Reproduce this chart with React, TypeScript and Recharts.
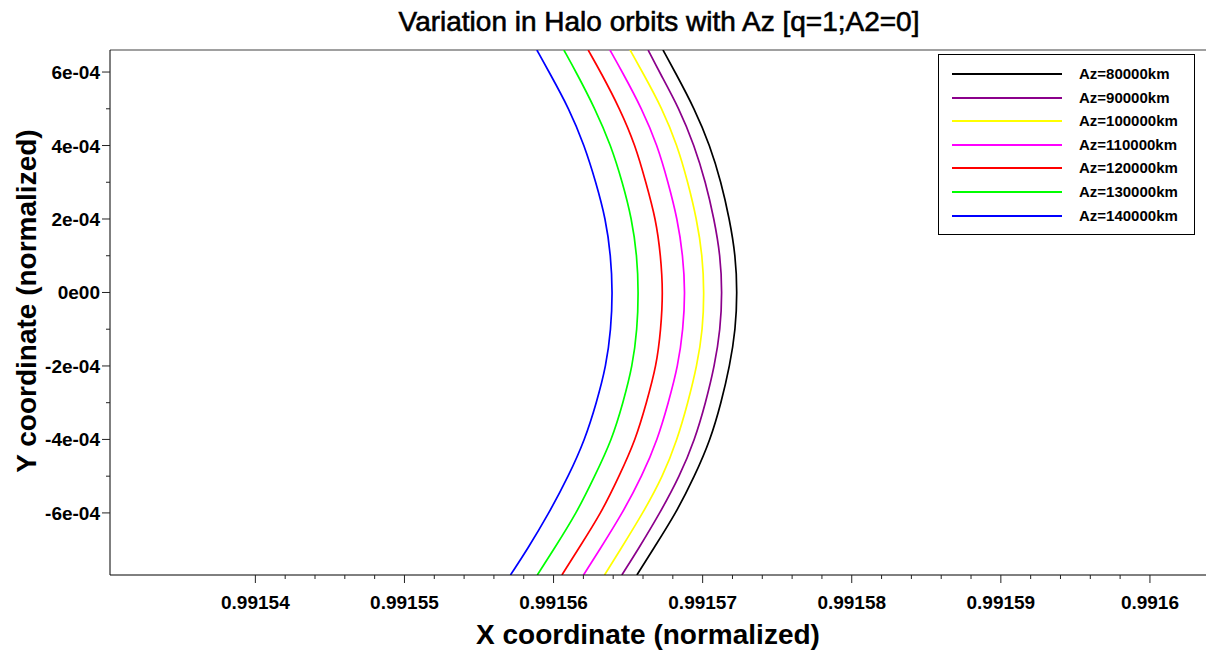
import React from 'react';
import { LineChart, Line, XAxis, YAxis, Legend, ReferenceLine } from 'recharts';

// y sample levels (normalized) from top edge to bottom edge
const yLevels = [6.6e-4, 6e-4, 5e-4, 4e-4, 3e-4, 2e-4, 1e-4, 0, -1e-4, -2e-4, -3e-4, -4e-4, -5e-4, -6e-4, -7e-4, -7.69e-4];

const xAz80000 = [0.99156734, 0.99156815, 0.99156946, 0.99157049, 0.99157124, 0.9915718, 0.99157221, 0.99157232, 0.99157221, 0.99157182, 0.99157124, 0.99157053, 0.99156946, 0.99156822, 0.99156666, 0.99156559];
const xAz90000 = [0.99156634, 0.9915671, 0.99156844, 0.99156944, 0.9915702, 0.99157077, 0.99157119, 0.99157131, 0.99157119, 0.9915708, 0.9915702, 0.99156948, 0.99156846, 0.99156714, 0.99156566, 0.99156458];
const xAz100000 = [0.99156513, 0.99156596, 0.9915673, 0.9915683, 0.99156901, 0.9915696, 0.99156999, 0.9915701, 0.99157001, 0.99156962, 0.99156901, 0.9915683, 0.99156734, 0.991566, 0.99156448, 0.99156342];
const xAz110000 = [0.99156378, 0.99156461, 0.99156593, 0.99156697, 0.99156768, 0.99156831, 0.99156868, 0.99156883, 0.99156869, 0.99156835, 0.9915677, 0.99156698, 0.99156593, 0.99156463, 0.99156309, 0.99156201];
const xAz120000 = [0.99156232, 0.99156316, 0.99156445, 0.99156549, 0.99156619, 0.99156686, 0.99156719, 0.99156734, 0.9915672, 0.9915669, 0.99156623, 0.99156551, 0.9915644, 0.9915632, 0.99156163, 0.99156056];
const xAz130000 = [0.99156069, 0.99156151, 0.99156279, 0.99156385, 0.99156462, 0.99156525, 0.9915656, 0.9915657, 0.99156561, 0.9915653, 0.99156466, 0.99156392, 0.99156276, 0.99156155, 0.99156, 0.99155891];
const xAz140000 = [0.99155888, 0.9915597, 0.99156105, 0.99156207, 0.99156284, 0.9915635, 0.99156384, 0.99156396, 0.99156385, 0.99156353, 0.99156288, 0.99156211, 0.991561, 0.9915597, 0.99155823, 0.99155711];

const seriesNames = ['Az=80000km', 'Az=90000km', 'Az=100000km', 'Az=110000km', 'Az=120000km', 'Az=130000km', 'Az=140000km'];
const seriesColors = ['#000000', '#8b008b', '#ffff00', '#ff00ff', '#ff0000', '#00ff00', '#0000ff'];
const seriesX = [xAz80000, xAz90000, xAz100000, xAz110000, xAz120000, xAz130000, xAz140000];

const xMajorTicks = [0.99154, 0.99155, 0.99156, 0.99157, 0.99158, 0.99159, 0.9916];
const xTickLabels = ['0.99154', '0.99155', '0.99156', '0.99157', '0.99158', '0.99159', '0.9916'];
const xMinorTicks = [
  0.991542, 0.991544, 0.991546, 0.991548,
  0.991552, 0.991554, 0.991556, 0.991558,
  0.991562, 0.991564, 0.991566, 0.991568,
  0.991572, 0.991574, 0.991576, 0.991578,
  0.991582, 0.991584, 0.991586, 0.991588,
  0.991592, 0.991594, 0.991596, 0.991598,
];
const yMajorTicks = [6e-4, 4e-4, 2e-4, 0, -2e-4, -4e-4, -6e-4];
const yTickLabels = ['6e-04', '4e-04', '2e-04', '0e00', '-2e-04', '-4e-04', '-6e-04'];
const yMinorTicks = [5e-4, 3e-4, 1e-4, -1e-4, -3e-4, -5e-4];

const xDomain = [0.99153025, 0.99160376];
const yDomain = [-7.69e-4, 6.6e-4];

const FONT = '"Liberation Sans", Arial, Helvetica, sans-serif';

const seriesData = seriesX.map((xs) => yLevels.map((y, i) => ({ x: xs[i], y })));

const findMajor = (arr: number[], v: number) => arr.findIndex((m) => Math.abs(m - v) < 1e-12);

const XTick = (props: any) => {
  const { x, y, payload } = props;
  const idx = findMajor(xMajorTicks, payload.value);
  const major = idx >= 0;
  return (
    <g>
      <line x1={x} x2={x} y1={y} y2={y + (major ? 8 : 4)} stroke="#222" strokeWidth={1} />
      {major && (
        <text x={x} y={y + 34} textAnchor="middle" fontFamily={FONT} fontWeight="bold" fontSize={19} fill="#000">
          {xTickLabels[idx]}
        </text>
      )}
    </g>
  );
};

const YTick = (props: any) => {
  const { x, y, payload } = props;
  const idx = findMajor(yMajorTicks, payload.value);
  const major = idx >= 0;
  return (
    <g>
      <line x1={x} x2={x - (major ? 8 : 4)} y1={y} y2={y} stroke="#222" strokeWidth={1} />
      {major && (
        <text x={x - 10} y={y + 7} textAnchor="end" fontFamily={FONT} fontWeight="bold" fontSize={19} fill="#000">
          {yTickLabels[idx]}
        </text>
      )}
    </g>
  );
};

const LegendBox = () => (
  <div
    style={{
      width: 255,
      height: 179,
      border: '1px solid #000',
      background: '#fff',
      position: 'relative',
      fontFamily: FONT,
    }}
  >
    {seriesNames.map((n, i) => (
      <div key={n} style={{ position: 'absolute', left: 0, top: 19 + i * 23.6 - 12, height: 24, width: 255 }}>
        <div style={{ position: 'absolute', left: 13, top: 11, width: 110, height: 2, background: seriesColors[i] }} />
        <div style={{ position: 'absolute', left: 140, top: 3, fontSize: 15, fontWeight: 'bold', color: '#000', lineHeight: '18px', whiteSpace: 'nowrap' }}>
          {n}
        </div>
      </div>
    ))}
  </div>
);

export default function App() {
  return (
    <div style={{ position: 'absolute', left: 0, top: 0, width: 1207, height: 654, background: '#fff', fontFamily: FONT }}>
      <LineChart width={1207} height={654} margin={{ top: 50, right: 1, bottom: 0, left: 0 }}>
        <XAxis
          type="number"
          dataKey="x"
          domain={xDomain}
          allowDataOverflow
          ticks={[...xMajorTicks, ...xMinorTicks]}
          interval={0}
          tickSize={0}
          tickMargin={0}
          tick={<XTick />}
          height={79}
          axisLine={{ stroke: '#000', strokeWidth: 1 }}
          tickLine={false}
        />
        <YAxis
          type="number"
          domain={yDomain}
          allowDataOverflow
          ticks={[...yMajorTicks, ...yMinorTicks]}
          interval={0}
          tickSize={0}
          tickMargin={0}
          tick={<YTick />}
          width={110}
          axisLine={{ stroke: '#000', strokeWidth: 1 }}
          tickLine={false}
        />
        <ReferenceLine y={yDomain[1]} stroke="#808080" strokeWidth={1.5} />
        {seriesNames.map((n, i) => (
          <Line
            key={n}
            name={n}
            data={seriesData[i]}
            dataKey="y"
            type="basis"
            stroke={seriesColors[i]}
            strokeWidth={1.7}
            dot={false}
            activeDot={false}
            isAnimationActive={false}
          />
        ))}
        <Legend
          layout="horizontal"
          verticalAlign="middle"
          align="center"
          wrapperStyle={{ position: 'absolute', left: 938, top: 54, width: 257, height: 181 }}
          content={() => <LegendBox />}
        />
      </LineChart>
      <div style={{ position: 'absolute', left: 0, top: 6, width: 1318, textAlign: 'center', fontSize: 28, color: '#000', whiteSpace: 'nowrap', WebkitTextStroke: '0.6px #000' }}>
        Variation in Halo orbits with Az [q=1;A2=0]
      </div>
      <div style={{ position: 'absolute', left: 0, top: 619, width: 1296, textAlign: 'center', fontSize: 28, fontWeight: 'bold', color: '#000', whiteSpace: 'nowrap' }}>
        X coordinate (normalized)
      </div>
      <div
        style={{
          position: 'absolute',
          left: 27,
          top: 301,
          transform: 'translate(-50%, -50%) rotate(-90deg)',
          fontSize: 28,
          fontWeight: 'bold',
          color: '#000',
          whiteSpace: 'nowrap',
        }}
      >
        Y coordinate (normalized)
      </div>
    </div>
  );
}
